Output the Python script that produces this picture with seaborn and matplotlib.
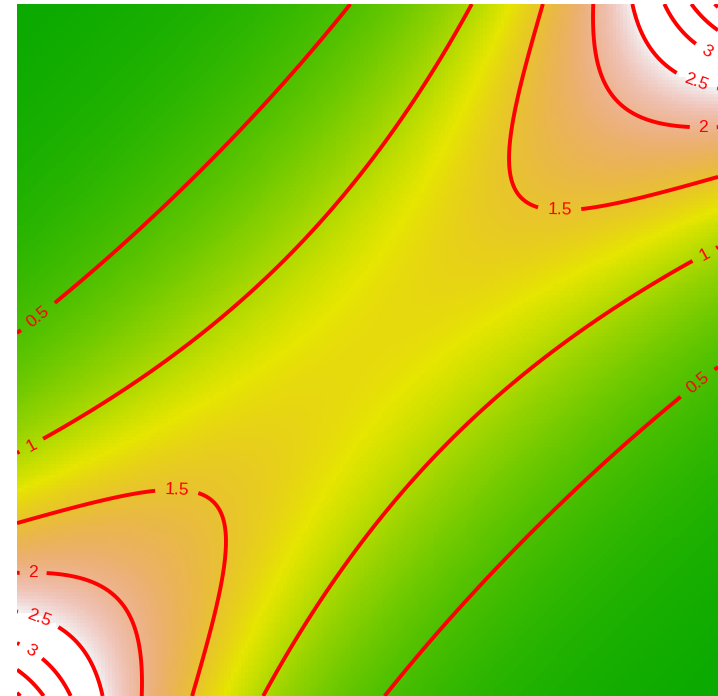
import numpy as np
import pandas as pd
import matplotlib
matplotlib.use("Agg")
import matplotlib.pyplot as plt
from matplotlib.colors import ListedColormap, hsv_to_rgb
import seaborn as sns

# Frank copula density on the unit square
THETA = 4.0
LEVELS = [0.5, 1.0, 1.5, 2.0, 2.5, 3.0, 3.5, 4.0]
COLOR_LIMITS = (0.0, 2.5)
N_CELLS = 200
N_FINE = 501

# (u, v) spots where the contour labels sit
LABEL_AT = [
    (0.030, 0.548), (0.020, 0.363), (0.228, 0.295), (0.023, 0.178),
    (0.030, 0.110), (0.020, 0.065),
    (0.774, 0.704), (0.979, 0.821), (0.969, 0.887), (0.984, 0.931),
    (0.980, 0.639), (0.971, 0.452),
]


def frank_density(u, v, theta):
    e = np.expm1(-theta)
    num = -theta * e * np.exp(-theta * (u + v))
    den = (e + np.expm1(-theta * u) * np.expm1(-theta * v)) ** 2
    return num / den


def terrain_colors(n):
    k = n // 2
    h = np.r_[np.linspace(4 / 12, 2 / 12, k), np.linspace(2 / 12, 0, n - k + 1)[1:]]
    s = np.r_[np.linspace(1, 1, k), np.linspace(1, 0, n - k + 1)[1:]]
    v = np.r_[np.linspace(0.65, 0.9, k), np.linspace(0.9, 0.95, n - k + 1)[1:]]
    return hsv_to_rgb(np.column_stack([h, s, v]))


cmap = ListedColormap(terrain_colors(256))
cmap.set_over("white")
cmap.set_under("white")

# cell-centre grid for the raster (rows ordered top to bottom)
centers = (np.arange(N_CELLS) + 0.5) / N_CELLS
U, V = np.meshgrid(centers, centers)
Z = frank_density(U, V, THETA)
grid = pd.DataFrame(Z[::-1])

# finer grid reaching the edges for the contour lines
fine = np.linspace(0, 1, N_FINE)
Uf, Vf = np.meshgrid(fine, fine)
Zf = frank_density(Uf, Vf, THETA)

sns.set_theme(style="white")
fig = plt.figure(figsize=(7.18, 6.96), dpi=100)
ax = fig.add_axes([17 / 718, 0, 701 / 718, 692 / 696])

sns.heatmap(grid, cmap=cmap, vmin=COLOR_LIMITS[0], vmax=COLOR_LIMITS[1],
            cbar=False, xticklabels=False, yticklabels=False, ax=ax)

cs = ax.contour(N_CELLS * fine, N_CELLS * (1 - fine), Zf, levels=LEVELS,
                colors="#ff0000", linewidths=2.8)
ax.clabel(cs, levels=LEVELS, inline=True, inline_spacing=8, fmt="%g",
          fontsize=12.5, colors="#ff0000",
          manual=[(N_CELLS * u, N_CELLS * (1 - v)) for u, v in LABEL_AT])
for t in cs.labelTexts:
    t.set_fontfamily("Liberation Sans")

ax.set_xlim(0, N_CELLS)
ax.set_ylim(N_CELLS, 0)
ax.axis("off")

fig.savefig("out.png", dpi=100)
